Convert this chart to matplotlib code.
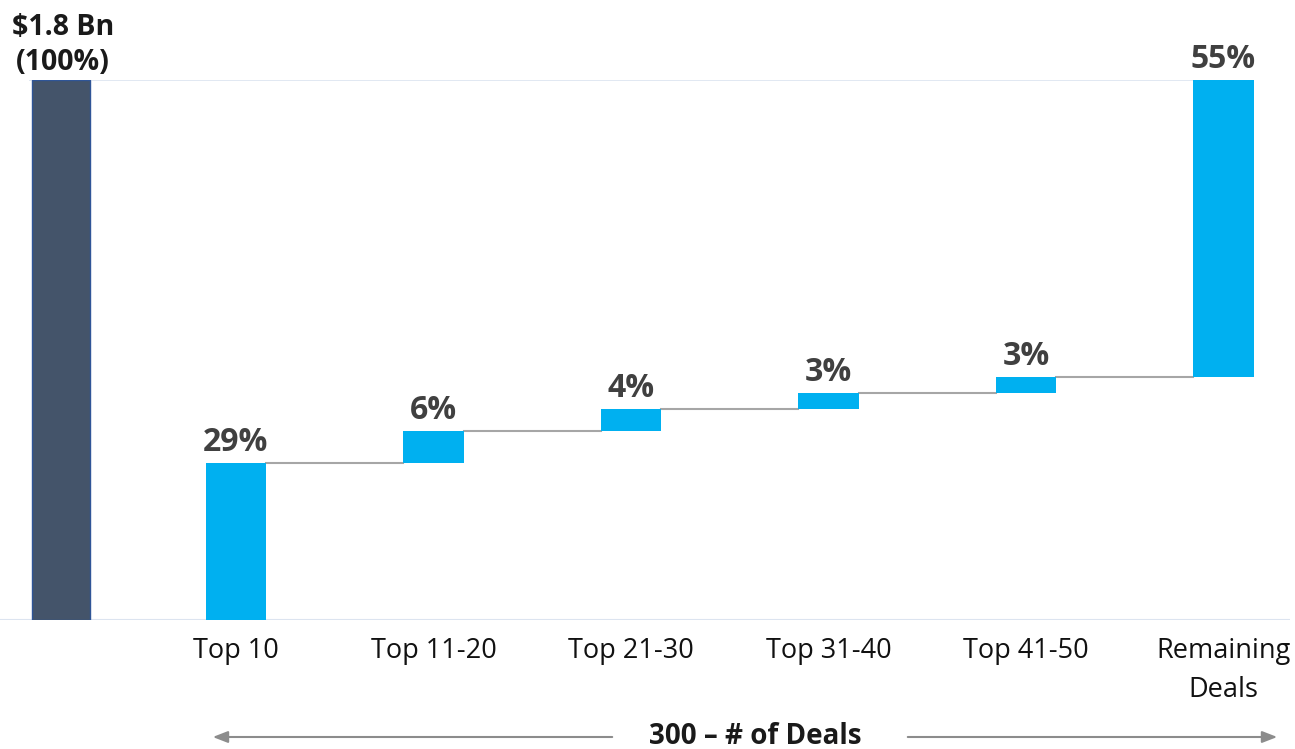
import matplotlib.pyplot as plt

# data
categories = ["Top 10", "Top 11-20", "Top 21-30", "Top 31-40", "Top 41-50", "Remaining\nDeals"]
shares = [29, 6, 4, 3, 3, 55]
total_share = 100
total_label = "$1.8 Bn\n(100%)"
axis_note = "300 \u2013 # of Deals"

plt.rcParams['font.family'] = ['Open Sans', 'DejaVu Sans']

fig = plt.figure(figsize=(12.95, 7.49), dpi=100)
ax = fig.add_axes([0, 1 - 620 / 749, 1290 / 1295, 540 / 749])

blue = "#00B0F0"
slate = "#44546A"
grid_c = "#DCE4F0"
conn_c = "#A6A6A6"
width = 0.305

# total bar, placed a bit closer than the rest
total_x = 0.114
ax.bar(total_x, total_share, width=0.295, color=slate, edgecolor="#2F5597", linewidth=1, zorder=3)
ax.text(total_x + 0.01, total_share + 0.5, total_label, ha="center", va="bottom",
        fontsize=20.5, fontweight="bold", color="#1a1a1a", linespacing=1.3)

# waterfall bars
xs = list(range(1, len(categories) + 1))
bottom = 0
for i, (x, v) in enumerate(zip(xs, shares)):
    ax.bar(x, v, bottom=bottom, width=width, color=blue, zorder=3)
    ax.text(x, bottom + v + 0.8, f"{v}%", ha="center", va="bottom",
            fontsize=23, fontweight="bold", color="#404040")
    top = bottom + v
    if i < len(shares) - 1:
        ax.plot([x + width / 2, xs[i + 1] - width / 2], [top, top], color=conn_c, lw=1.5, zorder=2)
    bottom = top

# grid / baseline
ax.hlines(total_share, -0.05, 6.0, color=grid_c, lw=1.2, zorder=1)
ax.axhline(0, color=grid_c, lw=1.5, zorder=1)

ax.set_xlim(-0.195, 6.337)
ax.set_ylim(0, 100)
for s in ax.spines.values():
    s.set_visible(False)
ax.set_yticks([])
ax.set_xticks(xs)
ax.set_xticklabels(categories, fontsize=19.5, color="#111111", linespacing=1.55)
ax.tick_params(axis="x", length=0, pad=12)

# bottom arrow with caption
y_arr = 12
arrow_kw = dict(arrowstyle="-|>,head_length=0.9,head_width=0.35", color="#8C8C8C", lw=1.5)
ax.annotate("", xy=(210, y_arr), xytext=(615, y_arr), xycoords="figure pixels",
            textcoords="figure pixels", arrowprops=arrow_kw)
ax.annotate("", xy=(1280, y_arr), xytext=(905, y_arr), xycoords="figure pixels",
            textcoords="figure pixels", arrowprops=arrow_kw)
fig.text(755 / 1295, y_arr / 749, axis_note, ha="center", va="center",
         fontsize=20, fontweight="bold", color="#1a1a1a")

fig.savefig("out.png", dpi=100)
